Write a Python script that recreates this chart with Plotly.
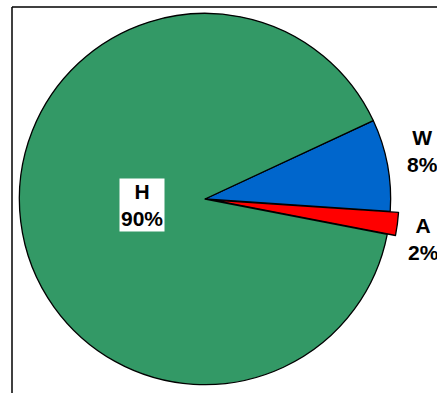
import plotly.graph_objects as go

labels = ["W", "A", "H"]
values = [8, 2, 90]
pct_text = ["8%", "2%", "90%"]
colors = ["#0066CC", "#FF0000", "#339966"]
pulls = [0, 0.045, 0]

W, H = 437, 393

fig = go.Figure(go.Pie(
    labels=labels, values=values, sort=False, direction="clockwise",
    rotation=65, pull=pulls, textinfo="none", hoverinfo="label+percent",
    marker=dict(colors=colors, line=dict(color="black", width=1.3)),
    domain=dict(x=[0, 410 / W], y=[0, 388 / H]),
    showlegend=False,
))

# label positions in pixels (layout only)
label_pos = {"W": (422, 151), "A": (423, 239), "H": (142, 205)}
for lab, pct in zip(labels, pct_text):
    px, py = label_pos[lab]
    fig.add_annotation(
        x=px / W, y=1 - py / H, xref="paper", yref="paper",
        xanchor="center", yanchor="middle",
        text=f"<b>{lab}</b><br><b>{pct}</b>", showarrow=False,
        font=dict(family="Liberation Sans, Arial", size=21, color="black"),
        bgcolor="white" if lab == "H" else "rgba(0,0,0,0)",
        borderpad=1, align="center",
    )

# frame (cropped chart border)
fig.add_shape(type="line", xref="paper", yref="paper",
              x0=12 / W, x1=12 / W, y0=-0.1, y1=1 - 7 / H,
              line=dict(color="black", width=1.5))
fig.add_shape(type="line", xref="paper", yref="paper",
              x0=12 / W, x1=1.1, y0=1 - 7 / H, y1=1 - 7 / H,
              line=dict(color="black", width=1.5))

fig.update_layout(
    width=W, height=H, margin=dict(l=0, r=0, t=0, b=0),
    paper_bgcolor="white", plot_bgcolor="white",
)

fig.write_html(
    "out.html",
    config={"displayModeBar": False},
    post_script="document.body.style.margin='0';document.body.style.overflow='hidden';",
)
